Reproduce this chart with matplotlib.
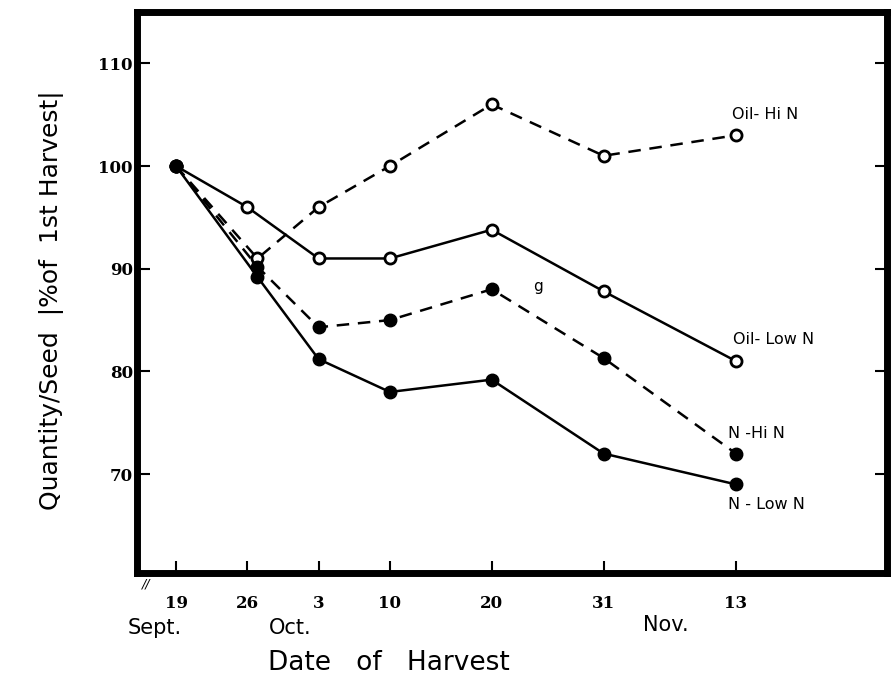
import matplotlib.pyplot as plt

# harvest dates as days after Sept. 19
days = [0, 7, 14, 21, 31, 42, 55]
day_labels = ["19", "26", "3", "10", "20", "31", "13"]
# points drawn a little right of the Sept. 26 tick in the original
days_shift = [0, 8, 14, 21, 31, 42, 55]

oil_hi_n = [100, 91, 96, 100, 106, 101, 103]
oil_low_n = [100, 96, 91, 91, 93.8, 87.8, 81]
n_hi_n = [100, 90.2, 84.3, 85, 88, 81.3, 72]
n_low_n = [100, 89.2, 81.2, 78, 79.2, 72, 69]

yticks = [70, 80, 90, 100, 110]

fig = plt.figure(figsize=(8.91, 6.82), dpi=100)
ax = fig.add_axes([0.1538, 0.1598, 0.8418, 0.8226])

lw = 1.8
ax.plot(days_shift, oil_hi_n, color="black", lw=lw, ls=(0, (5, 3.5)),
        marker="o", ms=8, mfc="white", mec="black", mew=2, zorder=3)
ax.plot(days, oil_low_n, color="black", lw=lw, ls="-",
        marker="o", ms=8, mfc="white", mec="black", mew=2, zorder=3)
ax.plot(days_shift, n_hi_n, color="black", lw=lw, ls=(0, (5, 3.5)),
        marker="o", ms=9, mfc="black", mec="black", zorder=3)
ax.plot(days_shift, n_low_n, color="black", lw=lw, ls="-",
        marker="o", ms=9, mfc="black", mec="black", zorder=3)

ax.set_xlim(-3.83, 69.84)
ax.set_ylim(60.37, 115.0)

for s in ax.spines.values():
    s.set_linewidth(5)

ax.set_xticks(days)
ax.set_xticklabels(day_labels, fontfamily="DejaVu Serif", fontweight="bold", fontsize=12)
ax.set_yticks(yticks)
ax.set_yticklabels([str(v) for v in yticks], fontfamily="DejaVu Serif",
                   fontweight="bold", fontsize=12)
ax.tick_params(axis="x", direction="in", length=9, width=1.5, pad=16)
ax.tick_params(axis="y", direction="in", length=9, width=1.5, pad=3, right=True)

# series labels
lab = dict(fontsize=11.5, fontfamily="DejaVu Sans", ha="left", va="center")
ax.text(54.6, 105.0, "Oil- Hi N", **lab)
ax.text(54.7, 83.1, "Oil- Low N", **lab)
ax.text(54.2, 74.0, "N -Hi N", **lab)
ax.text(54.2, 67.0, "N - Low N", **lab)
ax.text(35.1, 88.3, "g", fontsize=11, ha="left", va="center")

# month labels under the day numbers
mon = dict(fontsize=15, fontfamily="DejaVu Sans", ha="center", va="center",
           transform=ax.get_xaxis_transform())
ax.text(-2.1, -0.098, "Sept.", **mon)
ax.text(11.2, -0.098, "Oct.", **mon)
ax.text(48.1, -0.093, "Nov.", **mon)

# axis break mark
ax.text(-2.9, -0.02, "//", fontsize=9, fontstyle="italic", ha="center", va="center",
        transform=ax.get_xaxis_transform())

fig.text(0.437, 0.028, "Date   of   Harvest", fontsize=19, ha="center", va="center")
fig.text(0.058, 0.56, "Quantity/Seed  |%of  1st Harvest|", fontsize=18,
         rotation=90, ha="center", va="center")

plt.savefig("out.png", dpi=100)
